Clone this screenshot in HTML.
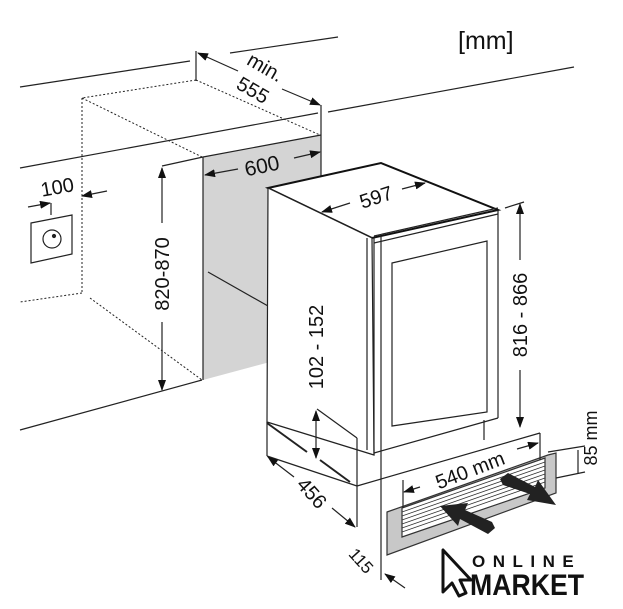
<!DOCTYPE html>
<html><head><meta charset="utf-8"><style>
html,body{margin:0;padding:0;background:#fff;}
svg{display:block;}
text{font-family:"Liberation Sans",Arial,sans-serif;fill:#111;}
</style></head><body>
<svg width="623" height="609" viewBox="0 0 623 609" xmlns="http://www.w3.org/2000/svg">
<defs>
<marker id="a" markerWidth="11" markerHeight="8" refX="10" refY="4" orient="auto" markerUnits="userSpaceOnUse">
<path d="M0,0 L11,4 L0,8 Z" fill="#111"/></marker>
</defs>
<g stroke="#222" stroke-width="1.2" fill="none">
<line x1="20" y1="87" x2="190" y2="61"/>
<line x1="230" y1="53" x2="338" y2="37"/>
<line x1="20" y1="168" x2="318" y2="113"/>
<line x1="328" y1="112" x2="574" y2="67"/>
<line x1="20" y1="430" x2="202" y2="380"/>
<polygon points="203,157 321,135 321,200 271,189 270,362 203,380" fill="#d4d4d4" stroke="none"/>
<line x1="203" y1="157" x2="203" y2="380"/>
<line x1="321" y1="105" x2="321" y2="190"/>
<line x1="162" y1="166" x2="203" y2="157"/>
<line x1="203" y1="157" x2="321" y2="135"/>
<line x1="208" y1="272" x2="268" y2="306"/>
<g stroke-dasharray="2,2" stroke-width="1">
<line x1="196" y1="80" x2="82" y2="98"/>
<line x1="82" y1="98" x2="82" y2="293"/>
<line x1="82" y1="293" x2="20" y2="302"/>
<line x1="196" y1="80" x2="320" y2="135"/>
<line x1="82" y1="98" x2="202" y2="157"/>
<line x1="90" y1="298" x2="202" y2="380"/>
</g>
<line x1="196" y1="51" x2="196" y2="81"/>
<line x1="238" y1="71" x2="198" y2="53" marker-end="url(#a)"/>
<line x1="282" y1="89" x2="320" y2="105" marker-end="url(#a)"/>
<line x1="238" y1="169" x2="205" y2="175" marker-end="url(#a)"/>
<line x1="294" y1="158" x2="320" y2="152" marker-end="url(#a)"/>
<line x1="162" y1="223" x2="162" y2="168" marker-end="url(#a)"/>
<line x1="162" y1="322" x2="162" y2="390" marker-end="url(#a)"/>
<line x1="28" y1="207" x2="50" y2="203" marker-end="url(#a)"/>
<line x1="107" y1="191" x2="82" y2="196" marker-end="url(#a)"/>
<line x1="51" y1="203" x2="51" y2="215"/>
<polygon points="31,223 72,215 72,254 31,263"/>
<circle cx="52" cy="239" r="9"/>
<circle cx="54" cy="236" r="1.5" fill="#222"/>
<polygon points="268,188 381,163 498,210 372,238" fill="#fff" stroke="#111" stroke-width="2"/>
<polygon points="268,188 372,238 374,455 267,422" fill="#fff"/>
<line x1="367" y1="238" x2="367" y2="450"/>
<line x1="374" y1="238" x2="374" y2="455"/>
<line x1="381" y1="236" x2="381" y2="580"/>
<line x1="374" y1="243" x2="498" y2="214"/>
<line x1="374" y1="236" x2="498" y2="208"/>
<line x1="498" y1="210" x2="498" y2="418"/>
<line x1="374" y1="453" x2="498" y2="418"/>
<line x1="484" y1="420" x2="484" y2="440"/>
<polygon points="392,263 487,241 487,412 392,426"/>
<line x1="267" y1="422" x2="267" y2="456"/>
<line x1="267" y1="456" x2="357" y2="486"/>
<line x1="317" y1="409" x2="357" y2="438"/>
<line x1="357" y1="438" x2="357" y2="527"/>
<line x1="357" y1="486" x2="540" y2="433"/>
<line x1="267" y1="423" x2="307" y2="452" stroke-width="2"/>
<line x1="320" y1="460" x2="350" y2="482" stroke-width="2"/>
<line x1="505" y1="208" x2="524" y2="202"/>
<line x1="520" y1="260" x2="520" y2="204" marker-end="url(#a)"/>
<line x1="520" y1="370" x2="520" y2="427" marker-end="url(#a)"/>
<line x1="316" y1="435" x2="316" y2="411" marker-end="url(#a)"/>
<line x1="316" y1="435" x2="316" y2="458" marker-end="url(#a)"/>
<line x1="294" y1="477" x2="268" y2="457" marker-end="url(#a)"/>
<line x1="332" y1="508" x2="355" y2="527" marker-end="url(#a)"/>
<line x1="405" y1="588" x2="385" y2="574" marker-end="url(#a)"/>
<line x1="350" y1="203" x2="322" y2="212" marker-end="url(#a)"/>
<line x1="402" y1="189" x2="425" y2="183" marker-end="url(#a)"/>
<polygon points="387,512 548,455 556,453 556,493 387,555" fill="#c8c8c8" stroke="#333"/>
<polygon points="402,508 545,458 545,488 402,537" fill="#fff" stroke="#333"/>
<g stroke="#333" stroke-width="0.8">
<line x1="402" y1="512" x2="545" y2="462"/><line x1="402" y1="516" x2="545" y2="466"/>
<line x1="402" y1="520" x2="545" y2="470"/><line x1="402" y1="524" x2="545" y2="474"/>
<line x1="402" y1="528" x2="545" y2="478"/><line x1="402" y1="532" x2="545" y2="482"/>
</g>
<line x1="403" y1="480" x2="403" y2="508"/>
<line x1="540" y1="433" x2="540" y2="460"/>
<line x1="420" y1="487" x2="404" y2="492" marker-end="url(#a)"/>
<line x1="517" y1="449" x2="538" y2="443" marker-end="url(#a)"/>
<line x1="548" y1="452" x2="585" y2="446"/>
<line x1="556" y1="478" x2="585" y2="472"/>
<line x1="578" y1="450" x2="578" y2="474"/>
</g>
<polygon points="500,479 508,473 535,487 538,480 556,505 527,500 530,494 503,485" fill="#222"/>
<polygon points="495,528 488,534 460,519 458,526 440,506 468,503 465,510 492,522" fill="#222"/>
<text x="458" y="49" font-size="25" fill="#444">[mm]</text>
<text x="265" y="74" font-size="20" text-anchor="middle" transform="rotate(30 265 68)">min.</text>
<text x="253" y="97" font-size="20" text-anchor="middle" transform="rotate(30 253 90)">555</text>
<text x="262" y="173" font-size="21" text-anchor="middle" transform="rotate(-12 262 166)">600</text>
<text x="57" y="194" font-size="20" text-anchor="middle" transform="rotate(-10 57 186)">100</text>
<text x="169" y="274" font-size="20" text-anchor="middle" transform="rotate(-90 169 274)">820-870</text>
<text x="376" y="204" font-size="20" text-anchor="middle" transform="rotate(-18 376 197)">597</text>
<text x="527" y="315" font-size="20" text-anchor="middle" transform="rotate(-90 527 315)">816 - 866</text>
<text x="323" y="347" font-size="20" text-anchor="middle" transform="rotate(-90 323 347)">102 - 152</text>
<text x="312" y="500" font-size="20" text-anchor="middle" transform="rotate(48 312 493)">456</text>
<text x="470" y="477" font-size="20" text-anchor="middle" transform="rotate(-21 470 470)">540 mm</text>
<text x="597" y="438" font-size="18" text-anchor="middle" transform="rotate(-90 597 438)">85 mm</text>
<text x="362" y="567" font-size="17" text-anchor="middle" transform="rotate(48 362 560)">115</text>
<path d="M443,550 L443,592 L452,583 L459,596 L466,593 L460,580 L471,580 Z" fill="#fff" stroke="#111" stroke-width="3" stroke-linejoin="round"/>
<text x="472" y="567" font-size="17" font-weight="bold" letter-spacing="7.5">ONLINE</text>
<text x="470" y="595" font-size="30" font-weight="bold" textLength="114" lengthAdjust="spacingAndGlyphs">MARKET</text>
</svg>
</body></html>
